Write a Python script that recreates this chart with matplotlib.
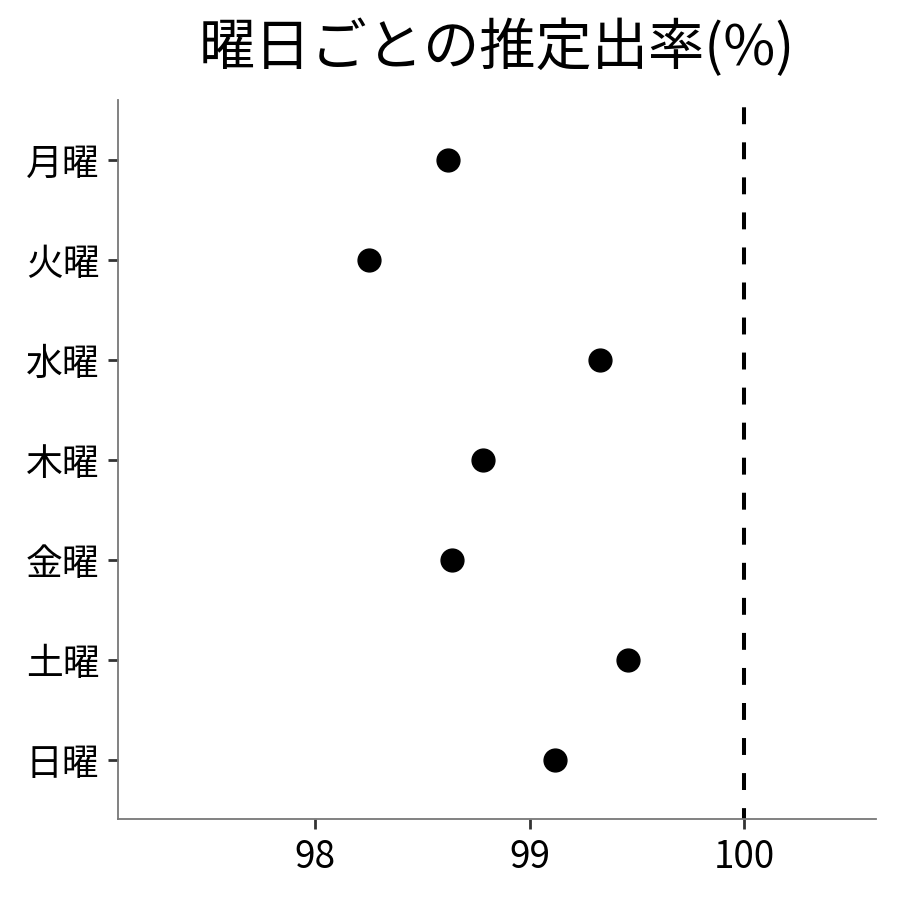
import matplotlib
matplotlib.use('Agg')
import matplotlib.pyplot as plt

plt.rcParams['font.family'] = ['Noto Sans CJK JP', 'DejaVu Sans']

# data
days = ['月曜', '火曜', '水曜', '木曜', '金曜', '土曜', '日曜']
rates = [98.62, 98.25, 99.33, 98.78, 98.64, 99.46, 99.12]
x_ticks = [98, 99, 100]

fig = plt.figure(figsize=(9, 9), dpi=100)
ax = fig.add_axes([0.1311, 0.09, 0.8422, 0.7989])

ypos = list(range(len(days)))[::-1]
ax.scatter(rates, ypos, s=270, color='black', zorder=3)
ax.axvline(100, color='black', lw=2.9, linestyle=(1.5, (4.2, 4.5)), zorder=2)

ax.set_xlim(97.08, 100.615)
ax.set_ylim(-0.59, 6.6)
ax.set_xticks(x_ticks)
ax.set_xticklabels([str(v) for v in x_ticks])
ax.set_yticks(ypos)
ax.set_yticklabels(days)

for side in ['top', 'right']:
    ax.spines[side].set_visible(False)
for side in ['left', 'bottom']:
    ax.spines[side].set_color('#777777')
    ax.spines[side].set_linewidth(1.3)

ax.tick_params(axis='both', length=7, width=2, color='#333333',
               labelsize=26.5, labelcolor='black', pad=6.5)

ax.set_title('曜日ごとの推定出率(%)', fontsize=40.5, pad=25)

fig.savefig('out.png', dpi=100)
